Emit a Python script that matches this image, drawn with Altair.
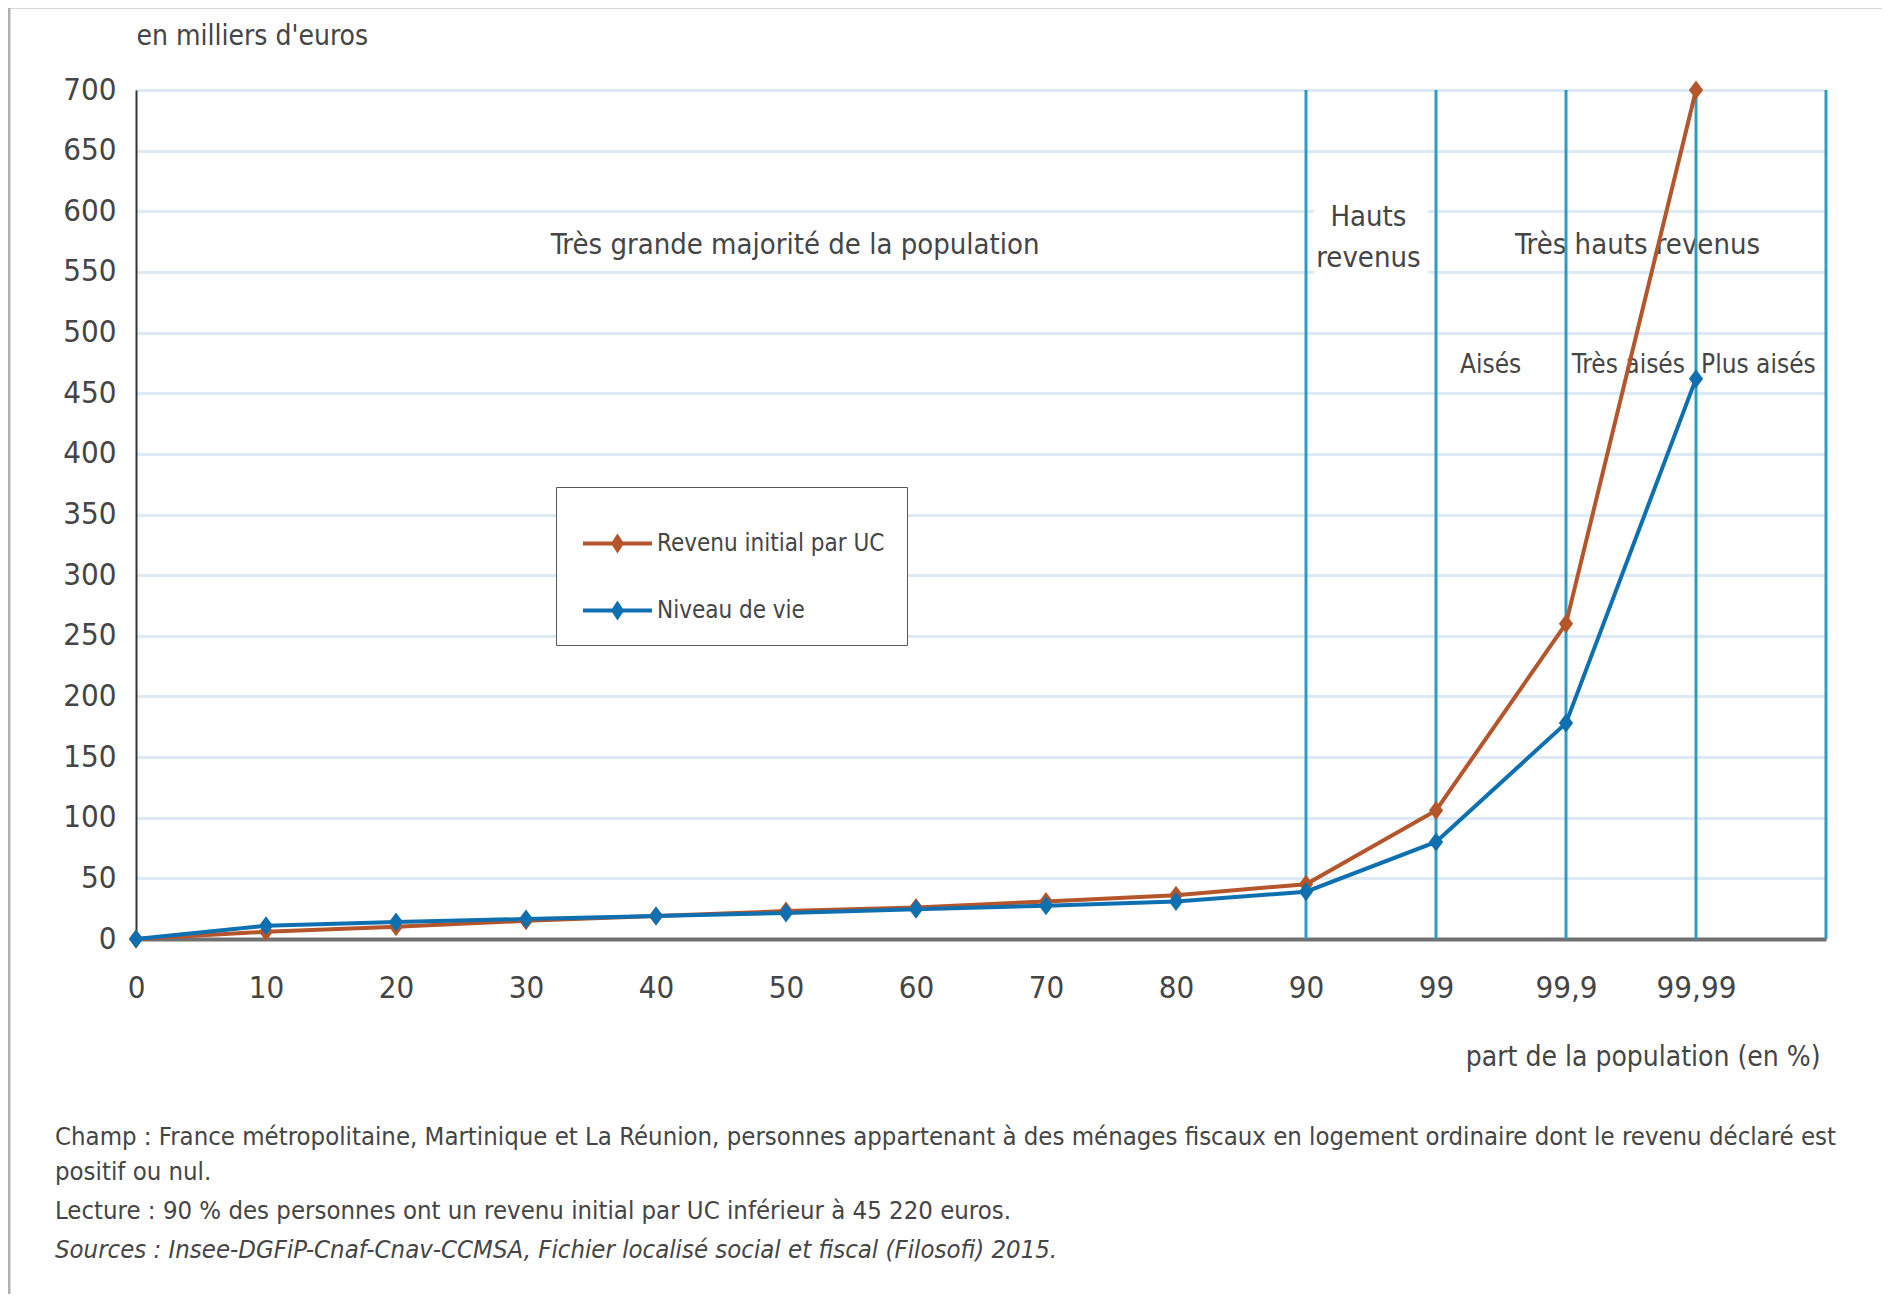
import altair as alt
import pandas as pd

# ---------------- data ----------------
categories = ["0", "10", "20", "30", "40", "50", "60", "70", "80", "90", "99", "99,9", "99,99"]
revenu_initial = [0, 6, 10, 15, 19, 23, 26, 31, 36, 45.2, 106, 260, 700]
niveau_de_vie = [0, 11, 14, 16.5, 19, 21.5, 24.5, 27.5, 31, 39, 80, 178, 462]
series_names = ["Revenu initial par UC", "Niveau de vie"]
series_colors = ["#B4552B", "#0F70B1"]
boundaries = [9, 10, 11, 12, 13]

group_labels = ["Très grande majorité de la population", "Hauts\nrevenus", "Très hauts revenus"]
group_x = [5.07, 9.48, 11.55]
group_y = [572, 595, 572]
sub_labels = ["Aisés", "Très aisés", "Plus aisés"]
sub_x = [10.42, 11.48, 12.48]
sub_y = [473, 473, 473]

footnotes = [
    "Champ : France métropolitaine, Martinique et La Réunion, personnes appartenant à des ménages fiscaux en logement ordinaire dont le revenu déclaré est",
    "positif ou nul.",
    "Lecture : 90 % des personnes ont un revenu initial par UC inférieur à 45 220 euros.",
    "Sources : Insee-DGFiP-Cnaf-Cnav-CCMSA, Fichier localisé social et fiscal (Filosofi) 2015.",
]

FONT = "Liberation Sans Narrow, DejaVu Sans Condensed, Liberation Sans, sans-serif"
TXT = "#454545"
W, H = 1690, 849

rows = []
for i, c in enumerate(categories):
    rows.append({"idx": i, "cat": c, "serie": series_names[0], "val": revenu_initial[i]})
    rows.append({"idx": i, "cat": c, "serie": series_names[1], "val": niveau_de_vie[i]})
df = pd.DataFrame(rows)

label_expr = "[" + ",".join(f"'{c}'" for c in categories) + "][datum.value]"

xscale = alt.Scale(domain=[0, 13], nice=False, zero=False)
yscale = alt.Scale(domain=[0, 700], nice=False)
cscale = alt.Scale(domain=series_names, range=series_colors)

x_axis = alt.Axis(
    values=list(range(len(categories))), labelExpr=label_expr, grid=False, ticks=False,
    labelFlush=False, labelOverlap=False,
    domainColor="#707070", domainWidth=4, labelFont=FONT, labelFontSize=31, labelColor=TXT,
    labelPadding=34, title="part de la population (en %)", titleFont=FONT, titleFontSize=28,
    titleFontWeight="normal", titleColor=TXT, titleAlign="right", titleAnchor="end",
    titleX=1684, titleY=118, titleBaseline="middle",
)
y_axis = alt.Axis(
    values=list(range(0, 701, 50)), grid=True, gridColor="#DDEAF4", gridWidth=3, ticks=False,
    labelFlush=False, labelOverlap=False,
    domainColor="#333333", domainWidth=2, labelFont=FONT, labelFontSize=31, labelColor=TXT,
    labelPadding=20, title="en milliers d'euros", titleFont=FONT, titleFontSize=28,
    titleFontWeight="normal", titleColor=TXT, titleAngle=0, titleAlign="left",
    titleX=0, titleY=-54, titleBaseline="middle",
)

legend_path = "M-1,-0.06H1V0.06H-1Z M0,-0.29L0.19,0L0,0.29L-0.19,0Z"
legend = alt.Legend(
    title=None, orient="none", legendX=420, legendY=397,
    symbolType=legend_path, symbolSize=4761, symbolOffset=5,
    symbolFillColor="#888888", symbolStrokeWidth=0,
    labelFont=FONT, labelFontSize=24, labelColor=TXT, labelOffset=5, labelLimit=0,
    rowPadding=20, padding=22, strokeColor="#555555", fillColor="white",
)

base = alt.Chart(df)

lines = base.mark_line(strokeWidth=4).encode(
    x=alt.X("idx:Q", scale=xscale, axis=x_axis),
    y=alt.Y("val:Q", scale=yscale, axis=y_axis),
    color=alt.Color("serie:N", scale=cscale, legend=legend),
    detail="serie:N",
)

points = base.mark_point(
    shape="M0,-1L0.75,0L0,1L-0.75,0Z", filled=True, size=360, opacity=1
).encode(
    x=alt.X("idx:Q", scale=xscale),
    y=alt.Y("val:Q", scale=yscale),
    color=alt.Color("serie:N", scale=cscale, legend=legend),
)

rect = alt.Chart(pd.DataFrame({"a": [9.06], "b": [9.94], "lo": [525], "hi": [625]})).mark_rect(
    color="white"
).encode(x=alt.X("a:Q", scale=xscale), x2="b:Q", y=alt.Y("lo:Q", scale=yscale), y2="hi:Q")

vrules = alt.Chart(pd.DataFrame({"b": boundaries})).mark_rule(
    color="#2E9BC2", strokeWidth=3
).encode(
    x=alt.X("b:Q", scale=xscale),
    y=alt.value(0), y2=alt.value(H),
)

gtext = alt.Chart(pd.DataFrame({"t": group_labels, "x": group_x, "y": group_y})).mark_text(
    font=FONT, fontSize=29, color=TXT, align="center", baseline="middle", lineBreak="\n", lineHeight=41
).encode(x=alt.X("x:Q", scale=xscale), y=alt.Y("y:Q", scale=yscale), text="t:N")

stext = alt.Chart(pd.DataFrame({"t": sub_labels, "x": sub_x, "y": sub_y})).mark_text(
    font=FONT, fontSize=26, color=TXT, align="center", baseline="middle"
).encode(x=alt.X("x:Q", scale=xscale), y=alt.Y("y:Q", scale=yscale), text="t:N")

foot_y = [1047, 1082, 1121, 1160]
foot_layers = []
for i, line in enumerate(footnotes):
    foot_layers.append(
        alt.Chart(pd.DataFrame({"t": [line]})).mark_text(
            font=FONT, fontSize=25.5, color=TXT, align="left", baseline="middle",
            fontStyle="italic" if i == 3 else "normal",
        ).encode(x=alt.value(-81), y=alt.value(foot_y[i]), text="t:N")
    )

frame_top = alt.Chart(pd.DataFrame({"k": [0]})).mark_rule(color="#B0B0B0", strokeWidth=3).encode(
    x=alt.value(-127), x2=alt.value(1746), y=alt.value(-83)
)
frame_left = alt.Chart(pd.DataFrame({"k": [0]})).mark_rule(color="#B0B0B0", strokeWidth=3).encode(
    x=alt.value(-127), y=alt.value(-83), y2=alt.value(1204)
)

chart = alt.layer(
    rect, gtext, stext, vrules, lines, points, *foot_layers, frame_top, frame_left
).properties(
    width=W, height=H,
    autosize=alt.AutoSizeParams(type="none"),
    padding={"left": 128, "top": 82, "right": 56, "bottom": 355},
).configure_view(stroke=None).configure_legend(strokeWidth=2).configure(background="white")

chart.save("out.html", embed_options={"renderer": "svg", "actions": False})
